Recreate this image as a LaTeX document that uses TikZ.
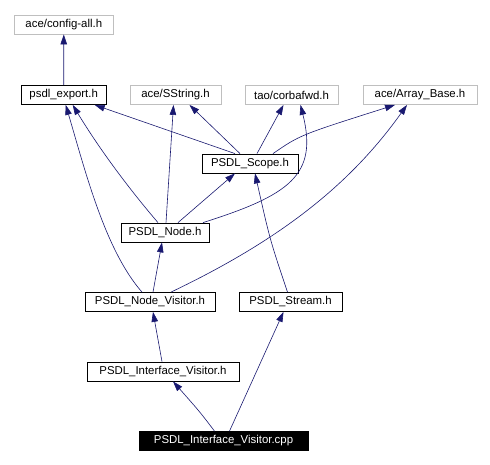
\documentclass[tikz,border=0pt]{standalone}
\usepackage{fontspec}
\setmainfont{Liberation Sans}
\usepackage{tikz}
\usetikzlibrary{arrows.meta}
\definecolor{edgeblue}{HTML}{191970}
\definecolor{boxgray}{HTML}{BFBFBF}

\begin{document}
\begin{tikzpicture}[x=1pt,y=-1pt,
  file/.style={draw=black,line width=.8pt,minimum height=19pt,inner xsep=0pt,font=\fontsize{11.4}{13}\selectfont},
  extfile/.style={file,draw=boxgray},
  edge/.style={draw=edgeblue,line width=.6pt,-{Triangle[length=10pt,width=6.5pt]}}]
\useasboundingbox (0,0) rectangle (490,465);
\node[extfile,minimum width=99pt] (config) at (63.8,24.5) {ace/config-all.h};
\node[file,minimum width=85pt] (export) at (63.7,95) {psdl\_export.h};
\node[extfile,minimum width=91pt] (sstring) at (175.5,95) {ace/SString.h};
\node[extfile,minimum width=93pt] (corba) at (291.5,95) {tao/corbafwd.h};
\node[extfile,minimum width=114pt] (array) at (420,95) {ace/Array\_Base.h};
\node[file,minimum width=96pt] (scope) at (250,163.5) {PSDL\_Scope.h};
\node[file,minimum width=88pt] (node) at (165,232.5) {PSDL\_Node.h};
\node[file,minimum width=130pt] (nodevis) at (150,302) {PSDL\_Node\_Visitor.h};
\node[file,minimum width=103pt] (stream) at (290.5,302) {PSDL\_Stream.h};
\node[file,minimum width=152pt] (ifvis) at (163,371.5) {PSDL\_Interface\_Visitor.h};
\node[file,fill=black,text=white,minimum width=169pt] (cpp) at (223.5,441) {PSDL\_Interface\_Visitor.cpp};
\draw[edge] (export) -- (config);
\draw[edge] ([xshift=-15pt]scope.north) -- ([xshift=31pt]export.south);
\draw[edge] ([xshift=-10pt]scope.north) -- ([xshift=14pt]sstring.south);
\draw[edge] ([xshift=7pt]scope.north) -- ([xshift=-8pt]corba.south);
\draw[edge] ([xshift=23pt]scope.north) .. controls (300,135) .. ([xshift=-25pt]array.south);
\draw[edge] ([xshift=-7pt]node.north) .. controls (130,190) and (100,150) .. ([xshift=9pt]export.south);
\draw[edge] ([xshift=1pt]node.north) -- ([xshift=-2pt]sstring.south);
\draw[edge] ([xshift=13pt]node.north) -- ([xshift=-15pt]scope.south);
\draw[edge] ([xshift=38pt]node.north) .. controls (290,195) and (318,175) .. ([xshift=9pt]corba.south);
\draw[edge] ([xshift=-8pt]nodevis.north) .. controls (105,250) and (85,170) .. ([xshift=2pt]export.south);
\draw[edge] ([xshift=3pt]nodevis.north) -- ([xshift=-3pt]node.south);
\draw[edge] ([xshift=21pt]nodevis.north) .. controls (280,240) and (350,185) .. ([xshift=-13pt]array.south);
\draw[edge] ([xshift=-3pt]stream.north) .. controls (270,240) .. ([xshift=5pt]scope.south);
\draw[edge] ([xshift=-1pt]ifvis.north) -- ([xshift=3pt]nodevis.south);
\draw[edge] ([xshift=-9pt]cpp.north) .. controls (200,412) .. ([xshift=10pt]ifvis.south);
\draw[edge] ([xshift=6pt]cpp.north) -- ([xshift=-7pt]stream.south);
\end{tikzpicture}
\end{document}
